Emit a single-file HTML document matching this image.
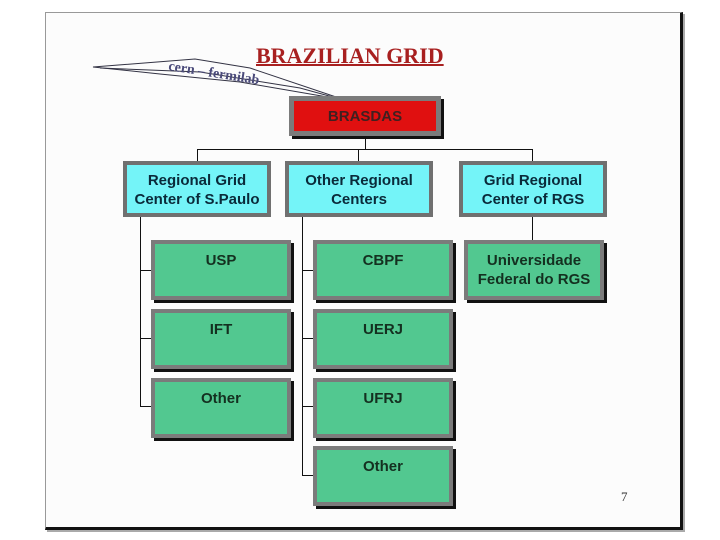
<!DOCTYPE html>
<html><head><style>
body{margin:0;width:720px;height:540px;background:#fff;position:relative;overflow:hidden;font-family:"Liberation Sans",Arial,sans-serif}
.a{position:absolute}
.frame{left:45px;top:12px;width:634px;height:514px;background:#fcfcfc;border-left:1px solid #999;border-top:1px solid #999;border-right:3px solid #111;border-bottom:3px solid #111;box-shadow:2px 2px 0 #aaa}
.b{position:absolute;box-sizing:border-box;border:4px solid #7b7b7b;box-shadow:3px 3px 0 #111;text-align:center;font-weight:bold;font-size:15px;line-height:19px;color:#143020}
.g{background:#52c890;width:140px;height:60px;padding-top:7px}
.c{background:#74f4f8;width:148px;height:56px;padding-top:6px;box-shadow:none;border-color:#707070;color:#0a2a3a}
.l{position:absolute;background:#111}
</style></head><body>
<div class="a frame"></div>
<div class="a" style="left:256px;top:43px;font-family:'Liberation Serif',serif;font-weight:bold;font-size:22px;color:#a82020;text-decoration:underline;text-decoration-thickness:2px">BRAZILIAN GRID</div>
<svg class="a" style="left:0;top:0" width="720" height="540">
<polygon points="93,67 195,59 250,68 345,100 240,82 160,74" fill="none" stroke="#334" stroke-width="1"/>
<polyline points="100,68 200,72 300,88 340,99" fill="none" stroke="#334" stroke-width="1"/>
<text x="168" y="70" font-family="Liberation Serif,serif" font-weight="bold" font-size="14" fill="#4a4a7a" transform="rotate(9 168 70)">cern – fermilab</text>
</svg>
<div class="b" style="left:289px;top:96px;width:152px;height:40px;background:#e01010;border-width:5px;padding-top:6px;color:#402020">BRASDAS</div>
<div class="l" style="left:365px;top:136px;width:1px;height:13px"></div>
<div class="l" style="left:197px;top:149px;width:336px;height:1px"></div>
<div class="l" style="left:197px;top:149px;width:1px;height:12px"></div>
<div class="l" style="left:358px;top:149px;width:1px;height:12px"></div>
<div class="l" style="left:532px;top:149px;width:1px;height:12px"></div>
<div class="b c" style="left:123px;top:161px">Regional Grid<br>Center of S.Paulo</div>
<div class="b c" style="left:285px;top:161px">Other Regional<br>Centers</div>
<div class="b c" style="left:459px;top:161px">Grid Regional<br>Center of RGS</div>
<div class="l" style="left:140px;top:217px;width:1px;height:190px"></div>
<div class="l" style="left:140px;top:270px;width:11px;height:1px"></div>
<div class="l" style="left:140px;top:338px;width:11px;height:1px"></div>
<div class="l" style="left:140px;top:406px;width:11px;height:1px"></div>
<div class="l" style="left:302px;top:217px;width:1px;height:258px"></div>
<div class="l" style="left:302px;top:270px;width:11px;height:1px"></div>
<div class="l" style="left:302px;top:338px;width:11px;height:1px"></div>
<div class="l" style="left:302px;top:406px;width:11px;height:1px"></div>
<div class="l" style="left:302px;top:475px;width:11px;height:1px"></div>
<div class="l" style="left:532px;top:217px;width:1px;height:23px"></div>
<div class="b g" style="left:151px;top:240px">USP</div>
<div class="b g" style="left:151px;top:309px">IFT</div>
<div class="b g" style="left:151px;top:378px">Other</div>
<div class="b g" style="left:313px;top:240px">CBPF</div>
<div class="b g" style="left:313px;top:309px">UERJ</div>
<div class="b g" style="left:313px;top:378px">UFRJ</div>
<div class="b g" style="left:313px;top:446px">Other</div>
<div class="b g" style="left:464px;top:240px;padding-top:7px">Universidade<br>Federal do RGS</div>
<div class="a" style="left:621px;top:489px;font-family:'Liberation Serif',serif;font-size:13px;color:#333">7</div>
</body></html>
